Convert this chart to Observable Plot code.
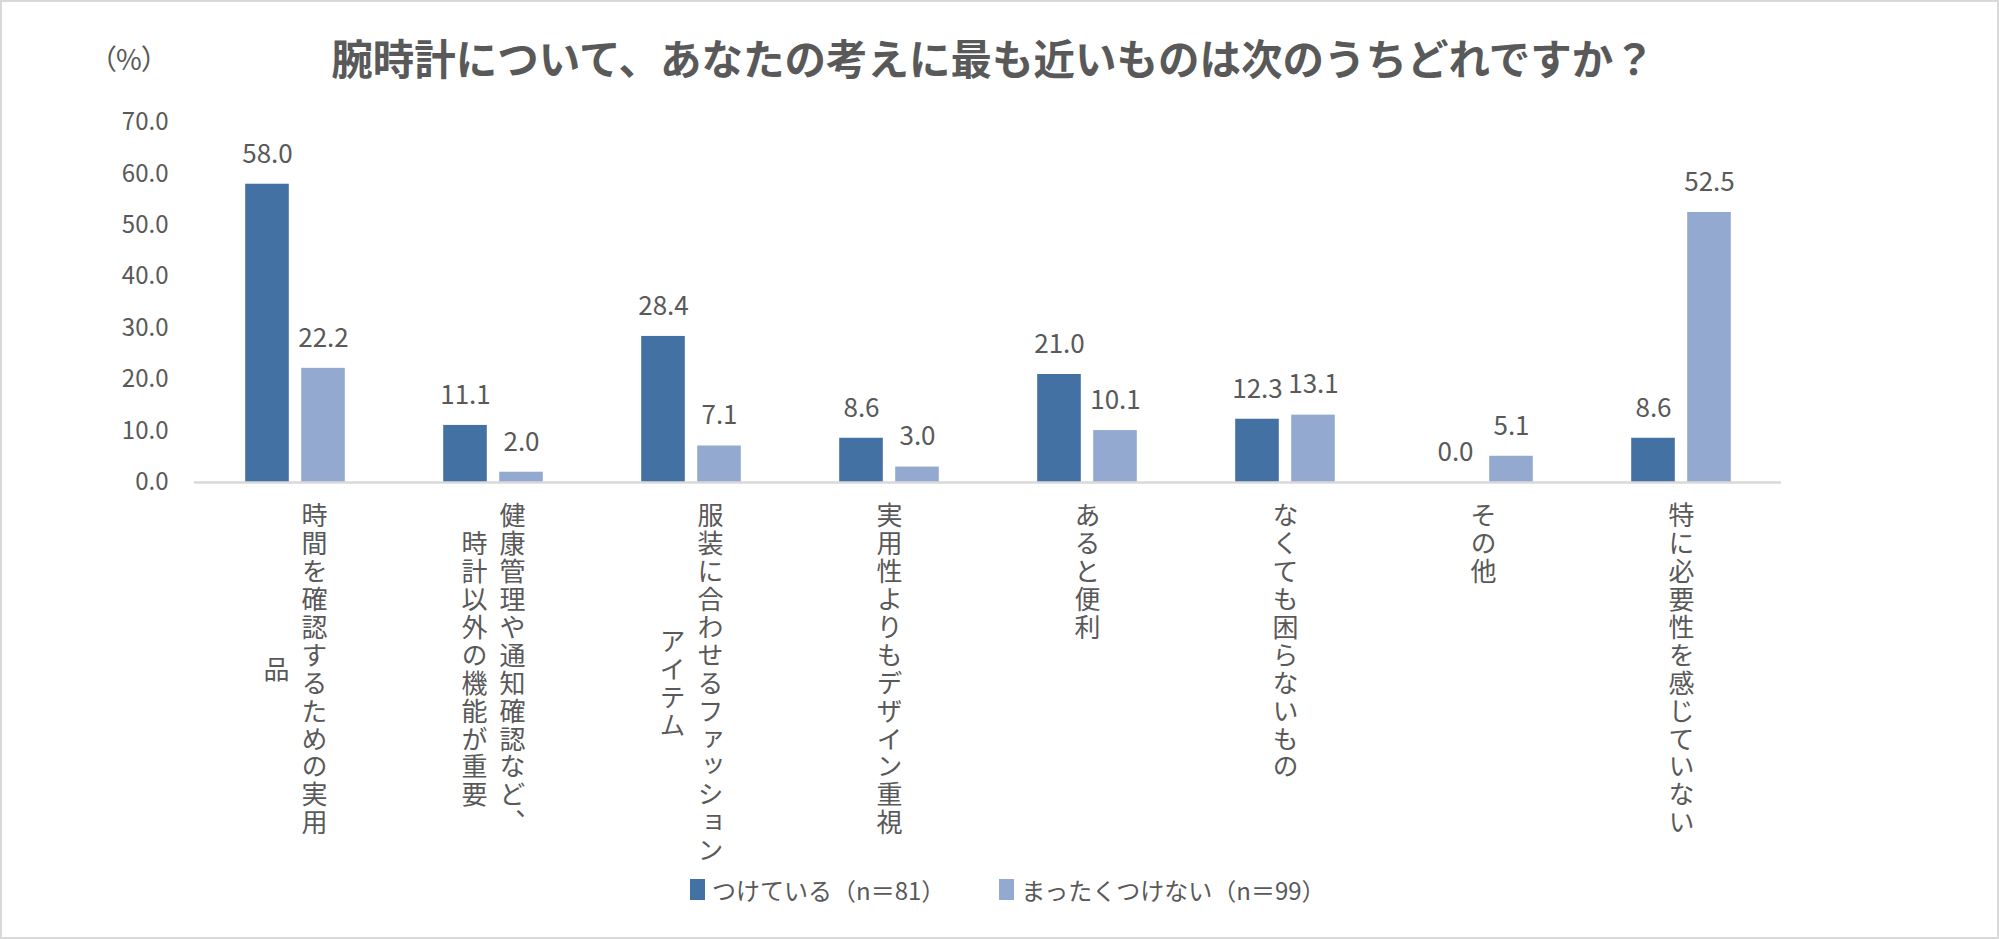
<!DOCTYPE html>
<html lang="ja">
<head>
<meta charset="utf-8">
<script src="https://cdn.jsdelivr.net/npm/d3@7"></script>
<script src="https://cdn.jsdelivr.net/npm/@observablehq/plot@0.6"></script>
<style>
  html, body { margin: 0; padding: 0; background: #ffffff; }
  #chart {
    position: relative; width: 1999px; height: 939px; box-sizing: border-box;
    border: 2px solid #d9d9d9; background: #fff; overflow: hidden;
    font-family: "Noto Sans CJK JP", "Noto Sans", sans-serif; color: #595959;
  }
  #head { position: relative; height: 83px; }
  #title {
    position: absolute; left: 0; width: 1982px; top: 30px; text-align: center;
    font-size: 41.5px; font-weight: bold; line-height: 50px; color: #595959;
  }
  #unit {
    position: absolute; left: 100px; top: 38px; font-size: 28px; line-height: 36px;
    font-feature-settings: "palt"; color: #595959;
  }
  #legend {
    height: 54px; display: flex; align-items: center; padding-left: 688px;
    font-size: 24px; color: #595959; margin-top: -15px;
  }
  .item { display: flex; align-items: center; margin-right: 54px; }
  .sw { width: 15px; height: 21px; margin-right: 7px; }
  svg { display: block; }
</style>
</head>
<body>
<div id="chart">
  <div id="head">
    <div id="unit"></div>
    <div id="title"></div>
  </div>
  <div id="plot"></div>
  <div id="legend"></div>
</div>
<script>
const titleText = "腕時計について、あなたの考えに最も近いものは次のうちどれですか？";
const unitText = "（%）";
const categories = [
  "時間を確認するための実用品",
  "健康管理や通知確認など、時計以外の機能が重要",
  "服装に合わせるファッションアイテム",
  "実用性よりもデザイン重視",
  "あると便利",
  "なくても困らないもの",
  "その他",
  "特に必要性を感じていない"
];
const labelLines = [
  ["時間を確認するための実用", "品"],
  ["健康管理や通知確認など、", "時計以外の機能が重要"],
  ["服装に合わせるファッション", "アイテム"],
  ["実用性よりもデザイン重視"],
  ["あると便利"],
  ["なくても困らないもの"],
  ["その他"],
  ["特に必要性を感じていない"]
];
const seriesNames = ["つけている（n＝81）", "まったくつけない（n＝99）"];
const wearing    = [58.0, 11.1, 28.4, 8.6, 21.0, 12.3, 0.0, 8.6];
const notWearing = [22.2, 2.0, 7.1, 3.0, 10.1, 13.1, 5.1, 52.5];
const yTicks = [0, 10, 20, 30, 40, 50, 60, 70];
const colors = ["#4471A4", "#94A9D0"];

document.getElementById("title").textContent = titleText;
document.getElementById("unit").textContent = unitText;

const rows = [];
categories.forEach((c, i) => {
  rows.push({cat: c, series: seriesNames[0], value: wearing[i]});
  rows.push({cat: c, series: seriesNames[1], value: notWearing[i]});
});
const labelRows = [];
categories.forEach((c, i) => {
  labelLines[i].forEach((t, j) => labelRows.push({cat: c, text: t, col: j, ncols: labelLines[i].length}));
});

const textColor = "#595959";
const labelFont = 26;

const plot = Plot.plot({
  width: 1995,
  height: 792,
  marginTop: 37,
  marginBottom: 395,
  marginLeft: 192,
  marginRight: 216,
  style: {fontFamily: "'Noto Sans CJK JP', 'Noto Sans', sans-serif", fontSize: "24px", color: textColor, background: "transparent"},
  x: {domain: categories, padding: 0, axis: null},
  y: {domain: [0, 70], ticks: yTicks, tickFormat: d3.format(".1f"), tickSize: 0, tickPadding: 26, label: null},
  marks: [
    Plot.barY(rows, {filter: d => d.series === seriesNames[0], x: "cat", y: "value", fill: colors[0], insetLeft: 49.2, insetRight: 105.2}),
    Plot.barY(rows, {filter: d => d.series === seriesNames[1], x: "cat", y: "value", fill: colors[1], insetLeft: 105.2, insetRight: 49.2}),
    Plot.ruleY([0], {stroke: "#d9d9d9", strokeWidth: 2.5}),
    Plot.text(rows, {filter: d => d.series === seriesNames[0], x: "cat", y: "value", text: d => d.value.toFixed(1), dx: -28, dy: -30, fill: textColor, fontSize: 26}),
    Plot.text(rows, {filter: d => d.series === seriesNames[1], x: "cat", y: "value", text: d => d.value.toFixed(1), dx: 28, dy: -30, fill: textColor, fontSize: 26}),
    Plot.text(labelRows, {filter: d => d.ncols === 1, x: "cat", text: "text", frameAnchor: "bottom", textAnchor: "start", dx: 0, fill: textColor, fontSize: labelFont, ariaDescription: "xlabel"}),
    Plot.text(labelRows, {filter: d => d.ncols === 2 && d.col === 0, x: "cat", text: "text", frameAnchor: "bottom", textAnchor: "start", dx: 19, fill: textColor, fontSize: labelFont, ariaDescription: "xlabel"}),
    Plot.text(labelRows, {filter: d => d.ncols === 2 && d.col === 1, x: "cat", text: "text", frameAnchor: "bottom", textAnchor: "start", dx: -19, fill: textColor, fontSize: labelFont, ariaDescription: "xlabel"})
  ]
});
document.getElementById("plot").appendChild(plot);

// vertical Japanese labels (tategaki), columns centred on the longest one
const labelEls = d3.select(plot).selectAll('g[aria-description="xlabel"] text');
labelEls
  .style("writing-mode", "vertical-rl")
  .style("text-orientation", "mixed")
  .style("letter-spacing", "1.9px")
  .attr("text-anchor", "start")
  .attr("dy", null);
const lens = new Map();
labelEls.each(function(i) {
  const d = labelRows[i];
  const L = this.getComputedTextLength();
  lens.set(i, L);
  lens.set(d.cat, Math.max(lens.get(d.cat) || 0, L));
});
labelEls.each(function(i) {
  const d = labelRows[i];
  const off = (lens.get(d.cat) - lens.get(i)) / 2;
  d3.select(this).attr("dy", 20 + off);
});

// legend
const legend = d3.select("#legend");
seriesNames.forEach((s, k) => {
  const it = legend.append("div").attr("class", "item");
  it.append("div").attr("class", "sw").style("background", colors[k]);
  it.append("span").text(s);
});
</script>
</body>
</html>
